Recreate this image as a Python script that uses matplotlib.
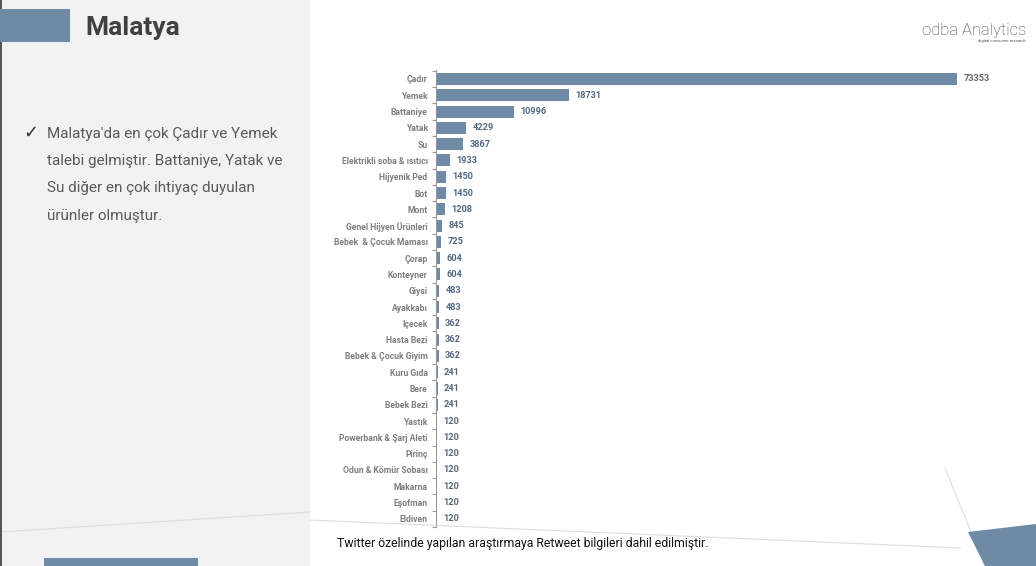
import matplotlib.pyplot as plt
import matplotlib.patches as mpatches
from matplotlib.lines import Line2D

plt.rcParams['font.family'] = ['Roboto', 'DejaVu Sans']

# veri
urunler = ["Çadır", "Yemek", "Battaniye", "Yatak", "Su", "Elektrikli soba & ısıtıcı",
           "Hijyenik Ped", "Bot", "Mont", "Genel Hijyen Ürünleri", "Bebek  & Çocuk Maması",
           "Çorap", "Konteyner", "Giysi", "Ayakkabı", "Içecek", "Hasta Bezi",
           "Bebek & Çocuk Giyim", "Kuru Gıda", "Bere", "Bebek Bezi", "Yastık",
           "Powerbank & Şarj Aleti", "Pirinç", "Odun & Kömür Sobası", "Makarna",
           "Eşofman", "Eldiven"]
talepler = [73353, 18731, 10996, 4229, 3867, 1933, 1450, 1450, 1208, 845, 725,
            604, 604, 483, 483, 362, 362, 362, 241, 241, 241, 120, 120, 120,
            120, 120, 120, 120]

baslik = "Malatya"
aciklama = ["Malatya'da en çok Çadır ve Yemek",
            "talebi gelmiştir. Battaniye, Yatak ve",
            "Su diğer en çok ihtiyaç duyulan",
            "ürünler olmuştur."]
dipnot = "Twitter özelinde yapılan araştırmaya Retweet bilgileri dahil edilmiştir."

W, H = 1036, 566
mavi = "#6f8aa4"

def fx(px):
    return px / W

def fy(py):
    return 1 - py / H

fig = plt.figure(figsize=(W / 100, H / 100), dpi=100)
fig.patch.set_facecolor("white")

# sol panel ve süslemeler
fig.patches.append(mpatches.Rectangle((0, 0), fx(310), 1, transform=fig.transFigure,
                                      facecolor="#f2f2f2", edgecolor="none", zorder=0))
fig.patches.append(mpatches.Rectangle((0, 0), fx(2), 1, transform=fig.transFigure,
                                      facecolor="#555555", edgecolor="none", zorder=1))
fig.patches.append(mpatches.Rectangle((0, fy(42)), fx(70), fy(9) - fy(42), transform=fig.transFigure,
                                      facecolor=mavi, edgecolor="none", zorder=1))
fig.patches.append(mpatches.Rectangle((fx(44), 0), fx(154), fy(558), transform=fig.transFigure,
                                      facecolor=mavi, edgecolor="none", zorder=1))
fig.patches.append(mpatches.Polygon([(fx(968), fy(532)), (fx(1036), fy(524)), (fx(1036), 0), (fx(985), 0)],
                                    closed=True, transform=fig.transFigure,
                                    facecolor=mavi, edgecolor="none", zorder=1))
for (x1, y1, x2, y2) in [(945, 468, 985, 566), (0, 532, 310, 512), (310, 520, 960, 548)]:
    fig.lines.append(Line2D([fx(x1), fx(x2)], [fy(y1), fy(y2)], transform=fig.transFigure,
                            color="#dddddd", lw=0.8, zorder=1))

fig.text(fx(85), fy(28), baslik, fontsize=19, fontweight="bold", color="#404040", va="center")
fig.text(fx(23), fy(133), "✓", fontsize=13, color="#333333", va="center",
         fontweight="bold", family=["DejaVu Sans"])
for i, satir in enumerate(aciklama):
    fig.text(fx(47), fy(134 + 27.2 * i), satir, fontsize=11, color="#5a5a5a", va="center")

fig.text(fx(922), fy(30), "odba Analytics", fontsize=12, color="#444444",
         va="center", fontweight="light")
fig.text(fx(1026), fy(41), "digital consumer research", fontsize=3, color="#555555",
         va="center", ha="right")

fig.text(fx(337), fy(543), dipnot, fontsize=8.8, color="#111111", va="center")

# grafik
ax = fig.add_axes([fx(436), fy(527), fx(1000) - fx(436), fy(70) - fy(527)])
ax.set_facecolor("none")
y = list(range(len(urunler)))
ax.barh(y, talepler, height=0.74, color=mavi, zorder=2)
for yi, v in zip(y, talepler):
    ax.annotate(str(v), (v, yi), xytext=(4.5, 0), textcoords="offset points",
                va="center", ha="left", fontsize=6.6, fontweight="bold",
                color="#52677f" if v < 50000 else "#666666")
ax.set_ylim(27.5, -0.55)
ax.set_xlim(0, 79400)
ax.set_yticks(y)
ax.set_yticklabels(urunler, fontsize=6.2, fontweight="bold", color="#7f7f7f")
ax.set_yticks([i + 0.5 for i in range(-1, len(urunler))], minor=True)
ax.tick_params(axis="y", which="major", length=0, pad=6)
ax.tick_params(axis="y", which="minor", length=3, color="#999999", width=0.8)
ax.set_xticks([])
for s in ["top", "right", "bottom"]:
    ax.spines[s].set_visible(False)
ax.spines["left"].set_color("#999999")
ax.spines["left"].set_linewidth(0.8)

fig.savefig("out.png", dpi=100)
